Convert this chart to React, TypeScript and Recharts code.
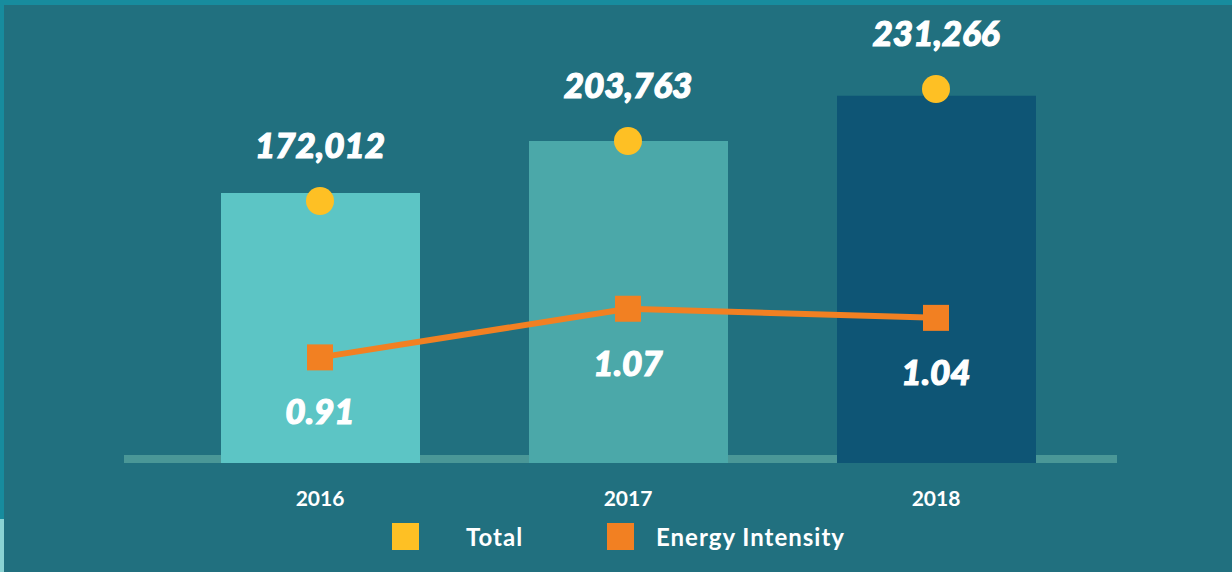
import React from 'react'
import { ComposedChart, Bar, Line, XAxis, YAxis, Cell, LabelList, Legend, ReferenceLine } from 'recharts'

// values
const years = ['2016', '2017', '2018']
const totals = [172012, 203763, 231266]
const intensities = [0.91, 1.07, 1.04]
const legendNames = ['Total', 'Energy Intensity']

const barColors = ['#5cc5c5', '#4ba8a9', '#0e5575']
const yellow = '#fec024'
const orange = '#f28022'
const font = "Lato, 'Open Sans', sans-serif"

const chartData = years.map((year, i) => ({
  year,
  total: totals[i],
  intensity: intensities[i],
}))

const SquareDot = (props: any) => {
  const { cx, cy, index } = props
  if (cx == null || cy == null) return null
  return <rect key={`sq-${index}`} x={cx - 13} y={cy - 13} width={26} height={26} fill={orange} />
}

const TotalLabel = (props: any) => {
  const { x, y, value } = props
  return (
    <text x={x} y={y - 43} textAnchor="middle" fill="#fff" stroke="#fff" strokeWidth={1.2} fontSize={35} fontWeight={900} fontStyle="italic" fontFamily={font}>
      {Number(value).toLocaleString('en-US')}
    </text>
  )
}

const IntensityLabel = (props: any) => {
  const { x, y, value } = props
  return (
    <text x={x} y={y + 67} textAnchor="middle" fill="#fff" stroke="#fff" strokeWidth={1.2} fontSize={35} fontWeight={900} fontStyle="italic" fontFamily={font}>
      {Number(value).toFixed(2)}
    </text>
  )
}

const legendColors = [yellow, orange]

const CustomLegend = () => (
  <div style={{ display: 'flex', alignItems: 'center', height: 40, paddingLeft: 392, fontFamily: font, fontWeight: 'bold', fontSize: 24, letterSpacing: 1, color: '#fff' }}>
    <span style={{ width: 27, height: 27, background: legendColors[0], marginRight: 47 }} />
    <span style={{ width: 141 }}>{legendNames[0]}</span>
    <span style={{ width: 27, height: 27, background: legendColors[1], marginRight: 22 }} />
    <span>{legendNames[1]}</span>
  </div>
)

export default function App() {
  return (
    <div style={{ position: 'absolute', left: 0, top: 0, width: 1232, height: 572, background: '#21707f', overflow: 'hidden' }}>
      {/* frame strips */}
      <div style={{ position: 'absolute', left: 0, top: 0, width: 1232, height: 5, background: '#178c9e' }} />
      <div style={{ position: 'absolute', left: 0, top: 0, width: 4, height: 519, background: '#178c9e' }} />
      <div style={{ position: 'absolute', left: 0, top: 519, width: 4, height: 53, background: '#8ad3d3' }} />
      <div style={{ position: 'absolute', left: 0, top: 0 }}>
        <ComposedChart width={1232} height={572} data={chartData} margin={{ top: 10, right: 115, bottom: 16, left: 124 }}>
          <XAxis
            dataKey="year"
            padding={{ left: 42, right: 27 }}
            axisLine={false}
            tickLine={false}
            tickMargin={22}
            height={53}
            tick={{ fill: '#fff', fontSize: 21, fontWeight: 'bold', fontFamily: font }}
          />
          <YAxis yAxisId="bars" hide domain={[7350, 283642]} allowDataOverflow />
          <YAxis yAxisId="total" hide domain={[33414, 273051]} allowDataOverflow />
          <YAxis yAxisId="intensity" hide domain={[0.5626, 2.0527]} allowDataOverflow />
          <Legend verticalAlign="bottom" content={<CustomLegend />} wrapperStyle={{ left: 0, width: 1232 }} />
          {/* baseline band, kept under the bars */}
          <ReferenceLine yAxisId="bars" y={9790} stroke="#4a9797" strokeWidth={8} zIndex={-50} />
          <Bar yAxisId="bars" dataKey="total" barSize={199} isAnimationActive={false} legendType="none">
            {chartData.map((d, i) => (
              <Cell key={d.year} fill={barColors[i]} />
            ))}
          </Bar>
          <Line
            yAxisId="intensity"
            type="linear"
            dataKey="intensity"
            stroke={orange}
            strokeWidth={6}
            dot={SquareDot}
            activeDot={false}
            isAnimationActive={false}
          >
            <LabelList dataKey="intensity" content={IntensityLabel} />
          </Line>
          <Line
            yAxisId="total"
            type="linear"
            dataKey="total"
            stroke="none"
            dot={{ r: 14, fill: yellow, stroke: 'none' }}
            activeDot={false}
            isAnimationActive={false}
          >
            <LabelList dataKey="total" content={TotalLabel} />
          </Line>
        </ComposedChart>
      </div>
    </div>
  )
}
